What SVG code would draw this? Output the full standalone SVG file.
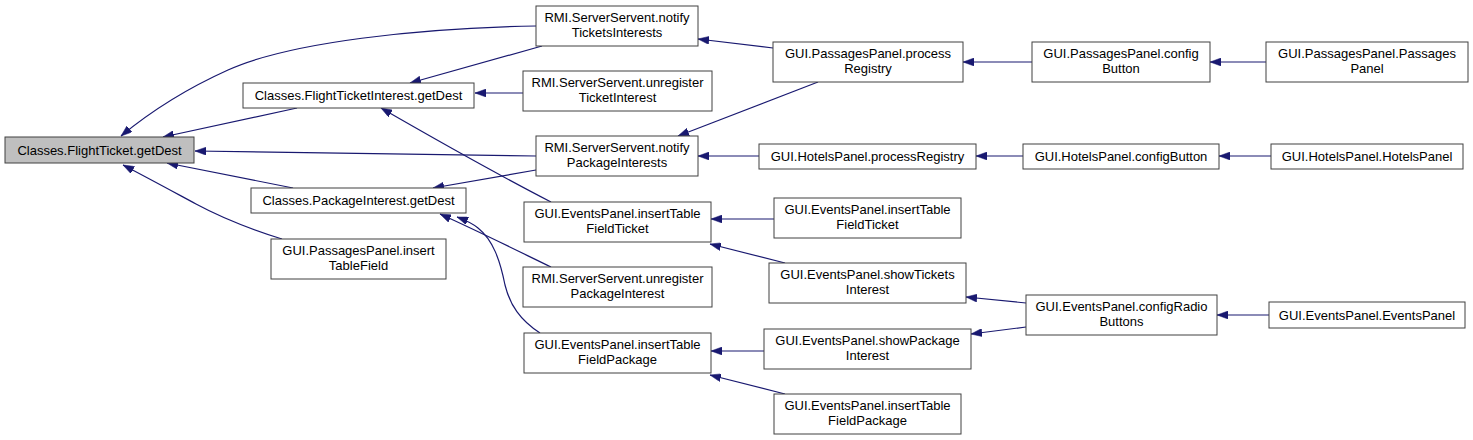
<svg xmlns="http://www.w3.org/2000/svg" width="1473" height="440" viewBox="0 0 1473 440">
<style>
.n rect{fill:#ffffff;stroke:#404040;stroke-width:1}
.n.root rect{fill:#bfbfbf}
.n text{font-family:"Liberation Sans",Arial,sans-serif;font-size:13px;fill:#000;text-anchor:middle}
.e path{fill:none;stroke:#191970;stroke-width:1.2;marker-end:url(#ah)}
</style>
<defs>
<marker id="ah" viewBox="0 0 11 8" refX="11" refY="4" markerWidth="11" markerHeight="8" markerUnits="userSpaceOnUse" orient="auto">
<path d="M0,0 L11,4 L0,8 z" fill="#191970" stroke="#191970" stroke-width="0.5"/>
</marker>
</defs>
<rect width="1473" height="440" fill="#ffffff"/>
<g id="edges" class="e">
<path d="M536,26 C420,28 290,42 228,70 C188,88 150,112 121,136"/>
<path d="M297,108 L163,137"/>
<path d="M536,156 L195,151"/>
<path d="M293,188 L167,163"/>
<path d="M282,239 C250,229 222,218 196,204 C170,190 148,178 123,165"/>
<path d="M542,46 L410,83"/>
<path d="M523,93 L475,93"/>
<path d="M551,202 C520,186 440,142 381,108"/>
<path d="M773,48 L698,39"/>
<path d="M536,170 L433,188"/>
<path d="M818,82 L678,136"/>
<path d="M759,156 L698,156"/>
<path d="M551,267 C520,252 480,232 440,214"/>
<path d="M540,333 C520,320 510,305 505,285 C500,260 493,240 478,228 C472,223 465,220 457,217"/>
<path d="M774,219 L711,219"/>
<path d="M785,263 L710,244"/>
<path d="M764,351 L711,351"/>
<path d="M785,394 L710,375"/>
<path d="M1032,62 L963,62"/>
<path d="M1266,62 L1210,62"/>
<path d="M1023,156 L976,156"/>
<path d="M1271,156 L1219,156"/>
<path d="M1026,303 L966,297"/>
<path d="M1026,327 L971,334"/>
<path d="M1269,315 L1217,315"/>
</g>
<g id="n0" class="n root"><rect x="5" y="137" width="189" height="26"/><text x="99.5" y="155">Classes.FlightTicket.getDest</text></g>
<g id="n1" class="n"><rect x="243" y="83" width="231" height="25"/><text x="358.5" y="100">Classes.FlightTicketInterest.getDest</text></g>
<g id="n2" class="n"><rect x="251" y="188" width="215" height="25"/><text x="358.5" y="205">Classes.PackageInterest.getDest</text></g>
<g id="n3" class="n"><rect x="271" y="239" width="175" height="40"/><text x="358.5" y="255">GUI.PassagesPanel.insert</text><text x="358.5" y="270">TableField</text></g>
<g id="n4" class="n"><rect x="536" y="6" width="162" height="40"/><text x="617" y="22">RMI.ServerServent.notify</text><text x="617" y="37">TicketsInterests</text></g>
<g id="n5" class="n"><rect x="523" y="71" width="189" height="40"/><text x="617.5" y="87">RMI.ServerServent.unregister</text><text x="617.5" y="102">TicketInterest</text></g>
<g id="n6" class="n"><rect x="536" y="136" width="162" height="40"/><text x="617" y="152">RMI.ServerServent.notify</text><text x="617" y="167">PackageInterests</text></g>
<g id="n7" class="n"><rect x="524" y="202" width="187" height="40"/><text x="617.5" y="218">GUI.EventsPanel.insertTable</text><text x="617.5" y="233">FieldTicket</text></g>
<g id="n8" class="n"><rect x="523" y="267" width="189" height="40"/><text x="617.5" y="283">RMI.ServerServent.unregister</text><text x="617.5" y="298">PackageInterest</text></g>
<g id="n9" class="n"><rect x="524" y="333" width="187" height="40"/><text x="617.5" y="349">GUI.EventsPanel.insertTable</text><text x="617.5" y="364">FieldPackage</text></g>
<g id="n10" class="n"><rect x="773" y="42" width="190" height="40"/><text x="868" y="58">GUI.PassagesPanel.process</text><text x="868" y="73">Registry</text></g>
<g id="n11" class="n"><rect x="759" y="144" width="217" height="25"/><text x="867.5" y="161">GUI.HotelsPanel.processRegistry</text></g>
<g id="n12" class="n"><rect x="774" y="198" width="187" height="40"/><text x="867.5" y="214">GUI.EventsPanel.insertTable</text><text x="867.5" y="229">FieldTicket</text></g>
<g id="n13" class="n"><rect x="769" y="263" width="197" height="40"/><text x="867.5" y="279">GUI.EventsPanel.showTickets</text><text x="867.5" y="294">Interest</text></g>
<g id="n14" class="n"><rect x="764" y="329" width="207" height="40"/><text x="867.5" y="345">GUI.EventsPanel.showPackage</text><text x="867.5" y="360">Interest</text></g>
<g id="n15" class="n"><rect x="774" y="394" width="187" height="40"/><text x="867.5" y="410">GUI.EventsPanel.insertTable</text><text x="867.5" y="425">FieldPackage</text></g>
<g id="n16" class="n"><rect x="1032" y="42" width="178" height="40"/><text x="1121" y="58">GUI.PassagesPanel.config</text><text x="1121" y="73">Button</text></g>
<g id="n17" class="n"><rect x="1266" y="42" width="202" height="40"/><text x="1367" y="58">GUI.PassagesPanel.Passages</text><text x="1367" y="73">Panel</text></g>
<g id="n18" class="n"><rect x="1023" y="144" width="196" height="25"/><text x="1121" y="161">GUI.HotelsPanel.configButton</text></g>
<g id="n19" class="n"><rect x="1271" y="144" width="192" height="25"/><text x="1367" y="161">GUI.HotelsPanel.HotelsPanel</text></g>
<g id="n20" class="n"><rect x="1026" y="295" width="191" height="40"/><text x="1121.5" y="311">GUI.EventsPanel.configRadio</text><text x="1121.5" y="326">Buttons</text></g>
<g id="n21" class="n"><rect x="1269" y="302" width="196" height="26"/><text x="1367" y="320">GUI.EventsPanel.EventsPanel</text></g>
</svg>
